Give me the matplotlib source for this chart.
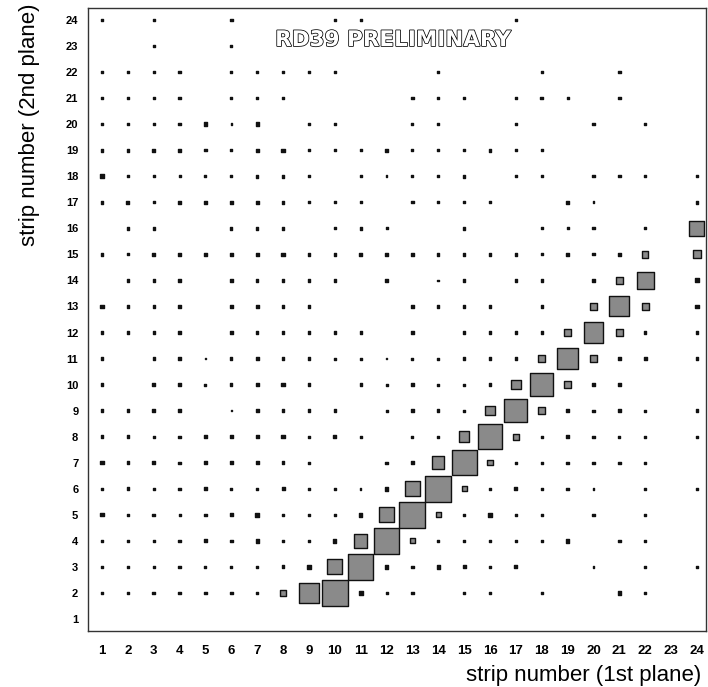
import matplotlib
matplotlib.use("Agg")
import matplotlib.pyplot as plt
import matplotlib.patheffects as pe
from matplotlib.patches import Rectangle
from matplotlib.collections import PatchCollection
import numpy as np

# strip numbers of both planes
strips = list(range(1, 25))

# coincidence counts, one row per strip of the 2nd plane (row 1 = strip 1),
# columns are strips 1..24 of the 1st plane
row01 = [0]*24
row02 = [9, 8, 10, 9, 10, 10, 8, 24, 74, 100, 15, 8, 9, 0, 8, 9, 0, 6, 0, 0, 12, 8, 0, 0]
row03 = [9, 8, 8, 9, 8, 8, 8, 11, 14, 58, 97, 14, 9, 13, 12, 9, 11, 0, 0, 6, 0, 9, 0, 7]
row04 = [9, 8, 9, 9, 12, 10, 13, 7, 8, 13, 52, 100, 20, 9, 9, 9, 7, 7, 13, 0, 9, 9, 0, 0]
row05 = [12, 9, 10, 8, 9, 11, 14, 8, 10, 8, 14, 58, 100, 20, 8, 13, 9, 9, 0, 8, 0, 8, 0, 0]
row06 = [9, 10, 8, 9, 12, 8, 9, 12, 6, 6, 6, 14, 58, 100, 20, 9, 12, 9, 9, 6, 0, 8, 0, 7]
row07 = [13, 10, 10, 9, 12, 12, 12, 10, 9, 0, 0, 9, 10, 48, 97, 20, 9, 9, 9, 8, 9, 9, 0, 0]
row08 = [10, 10, 7, 9, 12, 11, 11, 13, 9, 12, 9, 0, 8, 9, 40, 94, 22, 9, 10, 8, 8, 8, 0, 8]
row09 = [9, 10, 10, 11, 0, 6, 12, 9, 9, 9, 0, 8, 9, 9, 8, 35, 88, 26, 10, 8, 12, 8, 0, 9]
row10 = [10, 0, 13, 9, 8, 9, 12, 13, 9, 0, 9, 8, 10, 8, 8, 11, 36, 88, 28, 9, 10, 0, 0, 0]
row11 = [10, 0, 9, 10, 6, 9, 13, 9, 9, 8, 8, 7, 8, 8, 9, 10, 9, 28, 82, 27, 9, 10, 0, 9]
row12 = [9, 9, 9, 9, 0, 11, 8, 10, 8, 8, 8, 0, 10, 0, 8, 9, 10, 9, 30, 77, 27, 9, 0, 9]
row13 = [12, 10, 9, 11, 0, 10, 11, 9, 9, 0, 0, 0, 9, 9, 9, 9, 0, 9, 0, 30, 77, 27, 0, 13]
row14 = [0, 9, 9, 10, 0, 10, 10, 10, 9, 9, 0, 9, 0, 7, 9, 0, 9, 9, 0, 9, 27, 65, 0, 15]
row15 = [10, 8, 10, 11, 11, 10, 13, 13, 10, 10, 10, 9, 9, 9, 10, 10, 10, 8, 10, 8, 9, 24, 0, 30]
row16 = [0, 9, 9, 0, 0, 9, 10, 10, 0, 8, 9, 8, 0, 0, 9, 0, 0, 7, 7, 8, 0, 8, 0, 58]
row17 = [10, 12, 7, 11, 12, 11, 13, 10, 9, 9, 8, 0, 9, 8, 8, 8, 0, 0, 12, 7, 0, 0, 0, 11]
row18 = [14, 9, 9, 8, 8, 9, 10, 10, 9, 0, 7, 6, 8, 9, 10, 0, 8, 9, 0, 8, 9, 8, 0, 8]
row19 = [10, 10, 10, 13, 9, 9, 13, 13, 9, 8, 8, 11, 8, 8, 8, 10, 8, 9, 0, 0, 0, 0, 0, 0]
row20 = [9, 7, 7, 10, 13, 6, 13, 0, 9, 9, 0, 0, 7, 9, 0, 0, 6, 0, 0, 8, 0, 8, 0, 0]
row21 = [10, 9, 9, 9, 0, 9, 9, 9, 0, 0, 0, 0, 9, 7, 8, 0, 8, 10, 7, 0, 9, 0, 0, 0]
row22 = [9, 9, 9, 9, 0, 9, 9, 9, 8, 9, 0, 0, 0, 7, 0, 0, 0, 9, 0, 0, 9, 0, 0, 0]
row23 = [0, 0, 8, 0, 0, 7, 0, 0, 0, 0, 0, 0, 0, 0, 0, 0, 0, 0, 0, 0, 0, 0, 0, 0]
row24 = [9, 0, 9, 0, 0, 10, 0, 0, 0, 7, 7, 0, 0, 0, 0, 0, 7, 0, 0, 0, 0, 0, 0, 0]

counts = np.array([row01, row02, row03, row04, row05, row06, row07, row08,
                   row09, row10, row11, row12, row13, row14, row15, row16,
                   row17, row18, row19, row20, row21, row22, row23, row24],
                  dtype=float)

xlabel = "strip number (1st plane)"
ylabel = "strip number (2nd plane)"
stamp = "RD39 PRELIMINARY"

plt.rcParams["font.family"] = ["Liberation Sans", "DejaVu Sans"]

fig = plt.figure(figsize=(7.08, 6.87), dpi=100)
ax = fig.add_axes([88 / 708, 56 / 687, 618 / 708, 623 / 687])

# box histogram: side of each box proportional to the cell content;
# tiny boxes print solid, larger ones show a grey fill inside the frame
cmax = counts.max()
boxes, faces = [], []
for iy, ystrip in enumerate(strips):
    for ix, xstrip in enumerate(strips):
        c = counts[iy, ix]
        if c <= 0:
            continue
        s = c / cmax
        boxes.append(Rectangle((xstrip - s / 2, ystrip - s / 2), s, s))
        faces.append("#111111" if s < 0.16 else "#8a8a8a")
coll = PatchCollection(boxes, facecolor=faces, edgecolor="#111111",
                       linewidth=1.0)
ax.add_collection(coll)

ax.set_xlim(0.459, 24.35)
ax.set_ylim(0.539, 24.46)
ax.set_xticks(strips)
ax.set_yticks(strips)
ax.set_xticklabels([str(s) for s in strips], fontsize=9.5, fontweight="bold")
ax.set_yticklabels([str(s) for s in strips], fontsize=8, fontweight="bold")
ax.tick_params(axis="x", length=0, pad=10)
ax.tick_params(axis="y", length=0, pad=7)
for sp in ax.spines.values():
    sp.set_color("#333333")
    sp.set_linewidth(1.0)

fig.text(701 / 708, 1 - 676 / 687, xlabel, ha="right", va="center",
         fontsize=16)
fig.text(30 / 708, 1 - 125 / 687, ylabel, ha="center", va="center",
         rotation=90, fontsize=16)

ax.text(0.4935, 0.9486, stamp, transform=ax.transAxes, ha="center",
        va="center", fontsize=15.5, fontweight="bold", color="white",
        family="DejaVu Sans",
        path_effects=[pe.Stroke(linewidth=1.1, foreground="black"),
                      pe.Normal()])

fig.savefig("out.png", dpi=100)
